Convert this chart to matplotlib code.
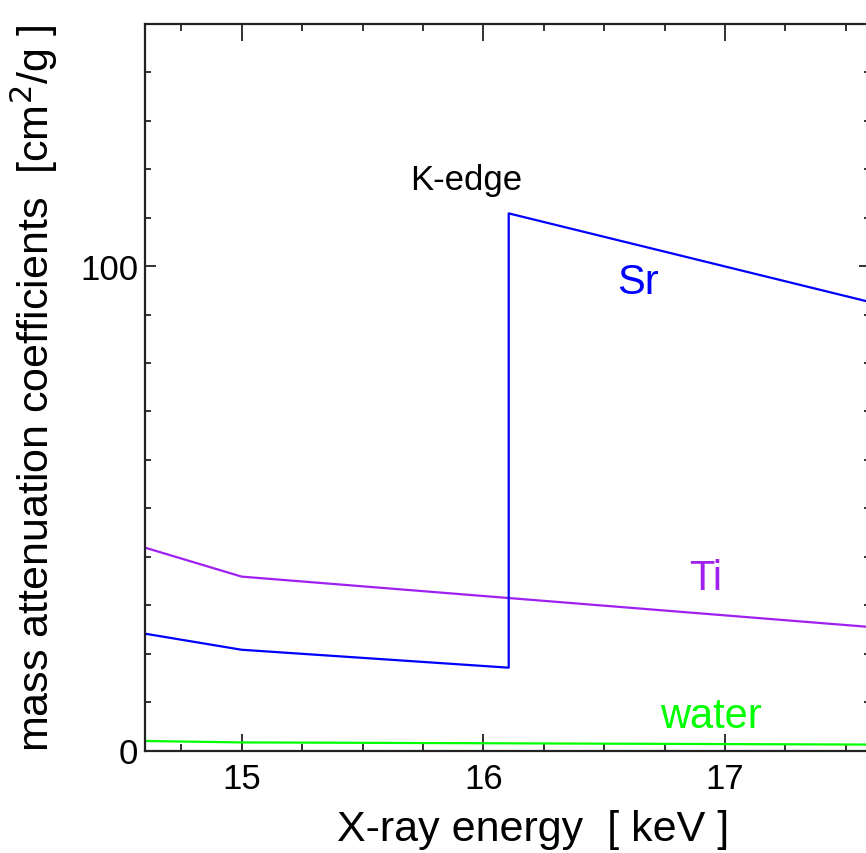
import matplotlib.pyplot as plt
from matplotlib.ticker import MultipleLocator

plt.rcParams['font.family'] = ['Liberation Sans', 'DejaVu Sans']

# mass attenuation coefficients [cm2/g] at tabulated energies [keV]
energy_sr = [10, 15, 16.105, 16.105, 20]
mu_sr = [62.3, 20.8, 17.1, 110.9, 63.2]

energy_ti = [10, 15, 20]
mu_ti = [110.7, 35.9, 15.9]

energy_water = [10, 15, 20]
mu_water = [5.33, 1.67, 0.81]

c_sr = '#0000ff'
c_ti = '#a020f0'
c_water = '#00ff00'

fig = plt.figure(figsize=(8.66, 8.54), dpi=100)
ax = fig.add_axes([145 / 866, 102.5 / 854, 725 / 866, 726.5 / 854])

ax.plot(energy_water, mu_water, color=c_water, lw=1.6)
ax.plot(energy_ti, mu_ti, color=c_ti, lw=1.6)
ax.plot(energy_sr, mu_sr, color=c_sr, lw=1.6)

ax.set_xlim(14.6, 17.6)
ax.set_ylim(0, 150)

ax.xaxis.set_major_locator(MultipleLocator(1))
ax.xaxis.set_minor_locator(MultipleLocator(0.25))
ax.yaxis.set_major_locator(MultipleLocator(100))
ax.yaxis.set_minor_locator(MultipleLocator(10))

ax.tick_params(axis='both', which='both', direction='in', top=True, right=True,
               width=1.3, color='#222222', labelsize=25)
ax.tick_params(axis='x', which='major', length=12, pad=8)
ax.tick_params(axis='x', which='minor', length=5)
ax.tick_params(axis='y', which='major', length=8, pad=5)
ax.tick_params(axis='y', which='minor', length=4)

for s in ax.spines.values():
    s.set_linewidth(1.6)
    s.set_color('#222222')

ax.set_xlabel('X-ray energy  [ keV ]', fontsize=31)
ax.xaxis.set_label_coords(0.535, -0.080)
ax.set_ylabel('mass attenuation coefficients  [cm$^2$/g ]', fontsize=31, labelpad=14)

ax.text(15.93, 117.8, 'K-edge', fontsize=25, ha='center', va='center')
ax.text(16.64, 96.8, 'Sr', fontsize=30, color=c_sr, ha='center', va='center')
ax.text(16.92, 35.6, 'Ti', fontsize=30, color=c_ti, ha='center', va='center')
ax.text(16.94, 7.1, 'water', fontsize=30, color=c_water, ha='center', va='center')

fig.savefig('out.png', dpi=100)
